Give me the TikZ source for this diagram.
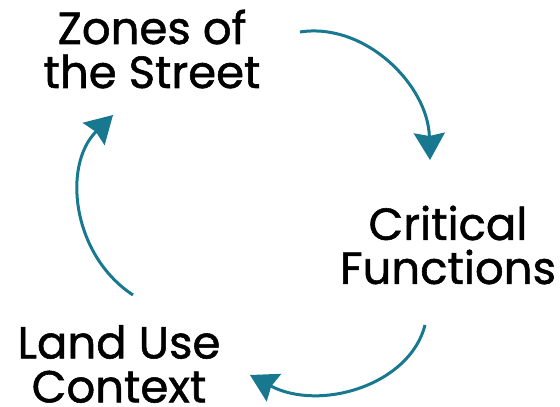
\documentclass[tikz,border=0pt]{standalone}
\usepackage{fontspec}
\setmainfont{Poppins}[FakeBold=1.2]
\usetikzlibrary{arrows.meta}
\definecolor{teal}{HTML}{17788F}
\tikzset{
  label/.style={align=center, font=\fontsize{45}{44}\selectfont, inner sep=0pt, text=black},
  cyc/.style={draw=teal, line width=3pt, -{Stealth[length=27pt,width=31pt,inset=3pt]}}
}
\begin{document}
\begin{tikzpicture}[x=1pt,y=-1pt]
\useasboundingbox (0,0) rectangle (560,407);
\node[label] (zones) at (152,49) {Zones of\\the Street};
\node[label] (crit) at (448,245) {Critical\\Functions};
\node[label] (land) at (119,364) {Land Use\\Context};
\coordinate (a1s) at (300,32);
\coordinate (a1e) at (430,160);
\coordinate (a2s) at (425,325);
\coordinate (a2e) at (250,375);
\coordinate (a3s) at (133,295);
\coordinate (a3e) at (113,115);
\draw[cyc] (a1s) .. controls (365,22) and (428,85) .. (a1e);
\draw[cyc] (a2s) .. controls (410,385) and (320,412) .. (a2e);
\draw[cyc] (a3s) .. controls (72,255) and (62,165) .. (a3e);
\end{tikzpicture}
\end{document}
